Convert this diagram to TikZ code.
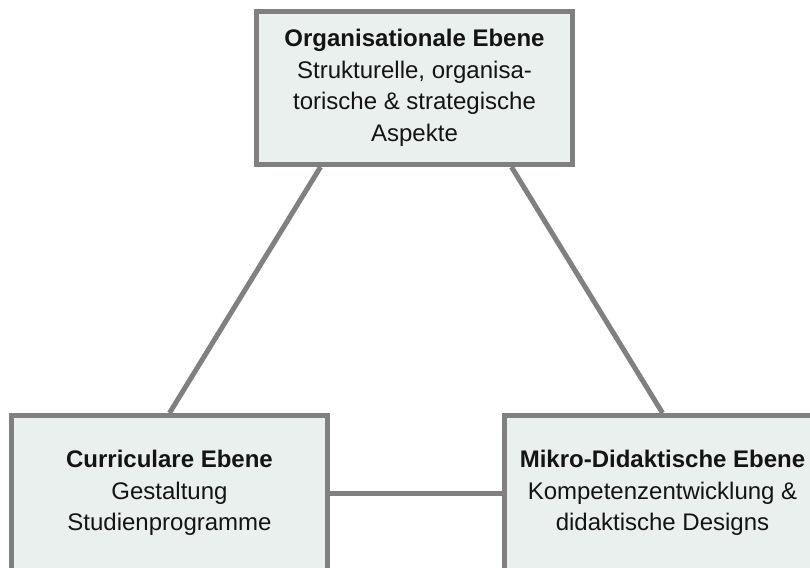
\documentclass[tikz,border=0pt]{standalone}
\usepackage{fontspec}
\setmainfont{Liberation Sans}
\usetikzlibrary{backgrounds,calc}
\definecolor{boxfill}{RGB}{233,240,238}
\definecolor{boxline}{RGB}{128,128,128}
\definecolor{txt}{RGB}{20,20,20}
\begin{document}
\begin{tikzpicture}[x=1pt,y=-1pt,
  levelbox/.style={draw=boxline, line width=5pt, fill=boxfill, minimum width=316pt, minimum height=155pt, align=center, text=txt, font=\fontsize{24}{31.5}\selectfont, inner sep=0pt},
  link/.style={draw=boxline, line width=5pt}]
\useasboundingbox (0,0) rectangle (810,567);
\node[levelbox, minimum height=153pt] (org) at (414.5,88) {\textbf{Organisationale Ebene}\\Strukturelle, organisa-\\torische \& strategische\\Aspekte};
\node[levelbox] (cur) at (169.5,493) {\textbf{Curriculare Ebene}\\Gestaltung\\Studienprogramme};
\node[levelbox] (mik) at (662.5,493) {\textbf{Mikro-Didaktische Ebene}\\Kompetenzentwicklung \&\\didaktische Designs};
\begin{scope}[on background layer]
\draw[link] ([xshift=-94pt]org.south) -- (cur.north);
\draw[link] ([xshift=97pt]org.south) -- (mik.north);
\draw[link] (cur.east) -- (mik.west);
\end{scope}
\end{tikzpicture}
\end{document}
